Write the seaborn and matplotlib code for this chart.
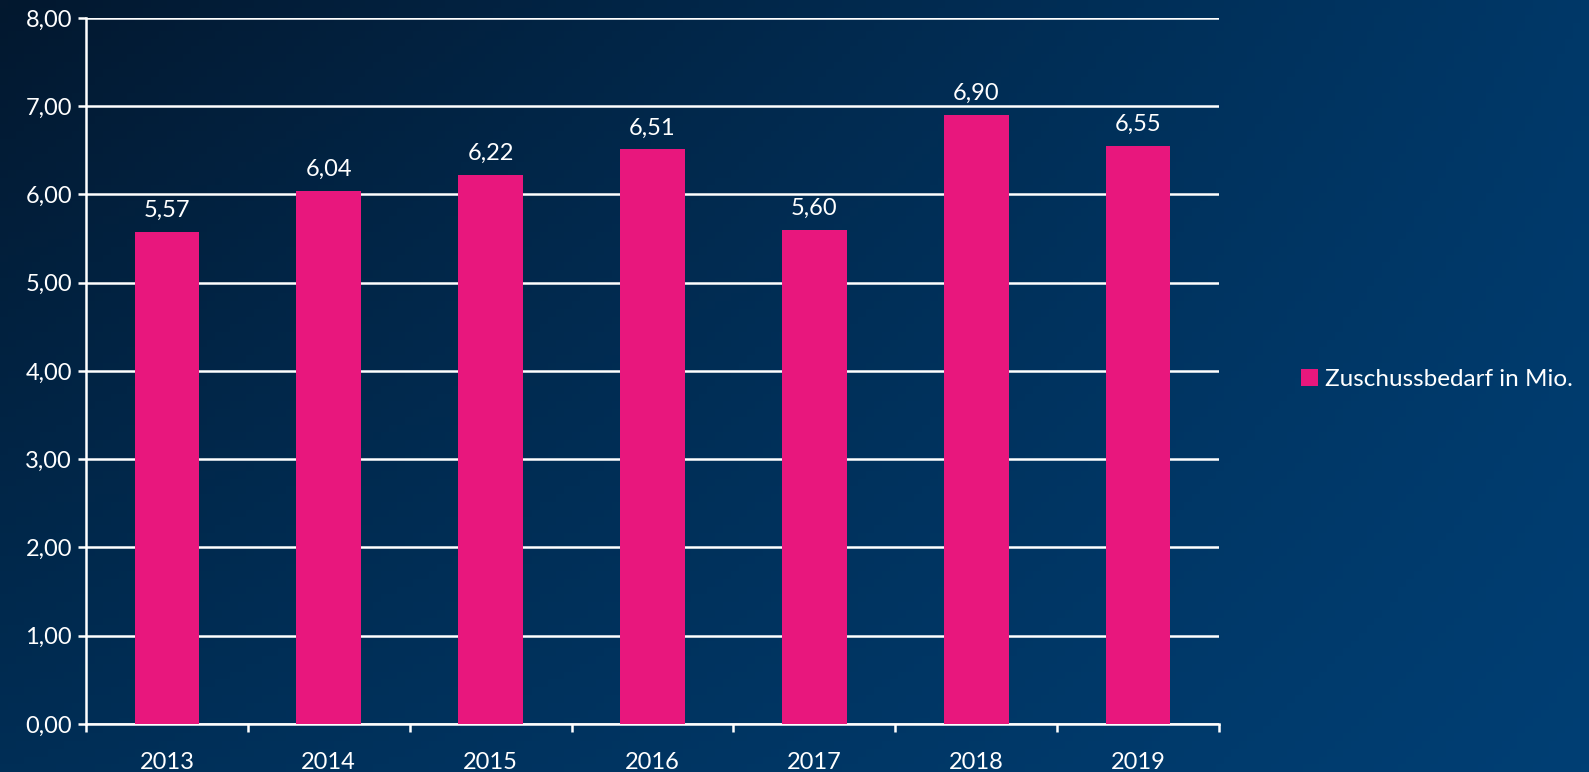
import numpy as np
import pandas as pd
import seaborn as sns
import matplotlib.pyplot as plt
from matplotlib.patches import Patch

# data
years = ['2013', '2014', '2015', '2016', '2017', '2018', '2019']
zuschuss = [5.57, 6.04, 6.22, 6.51, 5.60, 6.90, 6.55]
series_name = 'Zuschussbedarf in Mio.'
yticks = [0, 1, 2, 3, 4, 5, 6, 7, 8]

pink = '#e8177d'

sns.set_theme(style='white')
plt.rcParams['font.family'] = ['Lato', 'DejaVu Sans']

fig = plt.figure(figsize=(15.89, 7.72), dpi=100)

# gradient background (dark top-left to lighter blue right)
bg = fig.add_axes([0, 0, 1, 1], zorder=-10)
tl = np.array([3, 24, 47]) / 255
bl = np.array([0, 46, 86]) / 255
tr = np.array([0, 56, 104]) / 255
br = np.array([0, 63, 116]) / 255
u = np.linspace(0, 1, 200)[None, :, None]
v = np.linspace(0, 1, 100)[:, None, None]
grad = (1 - v) * ((1 - u) * tl + u * tr) + v * ((1 - u) * bl + u * br)
bg.imshow(grad, aspect='auto', extent=[0, 1, 0, 1], origin='upper')
bg.axis('off')

ax = fig.add_axes([0.0541, 0.0622, 0.7130, 0.9145])
ax.patch.set_alpha(0)

df = pd.DataFrame({'Jahr': years, 'Wert': zuschuss})
sns.barplot(data=df, x='Jahr', y='Wert', color=pink, width=0.4,
            saturation=1, linewidth=0, edgecolor='none', ax=ax, zorder=3)

ax.set_xlim(-0.5, len(years) - 0.5)
ax.set_ylim(0, 8)
ax.set_yticks(yticks)
ax.set_yticklabels([f'{t:.2f}'.replace('.', ',') for t in yticks])
ax.grid(axis='y', color='white', linewidth=1.8, zorder=0)
ax.set_axisbelow(True)

for s in ['top', 'right']:
    ax.spines[s].set_visible(False)
for s in ['left', 'bottom']:
    ax.spines[s].set_color('white')
    ax.spines[s].set_linewidth(1.8)

ax.tick_params(axis='y', colors='white', labelsize=17, length=6, width=1.8,
               direction='out', left=True, pad=4)
ax.tick_params(axis='x', which='major', colors='white', labelsize=17,
               length=0, pad=20)
ax.set_xticks(np.arange(-0.5, len(years)), minor=True)
ax.tick_params(axis='x', which='minor', color='white', length=6, width=1.8,
               direction='out', bottom=True)
ax.set_xlabel('')
ax.set_ylabel('')

for c in ax.containers:
    ax.bar_label(c, labels=[f'{v:.2f}'.replace('.', ',') for v in zuschuss],
                 color='white', fontsize=17, padding=8)

fig.legend(handles=[Patch(facecolor=pink, edgecolor='none', label=series_name)],
           loc='center left', bbox_to_anchor=(0.805, 0.508), frameon=False,
           fontsize=17.5, labelcolor='white', handlelength=0.7,
           handleheight=0.7, handletextpad=0.3)

fig.savefig('out.png', dpi=100)
